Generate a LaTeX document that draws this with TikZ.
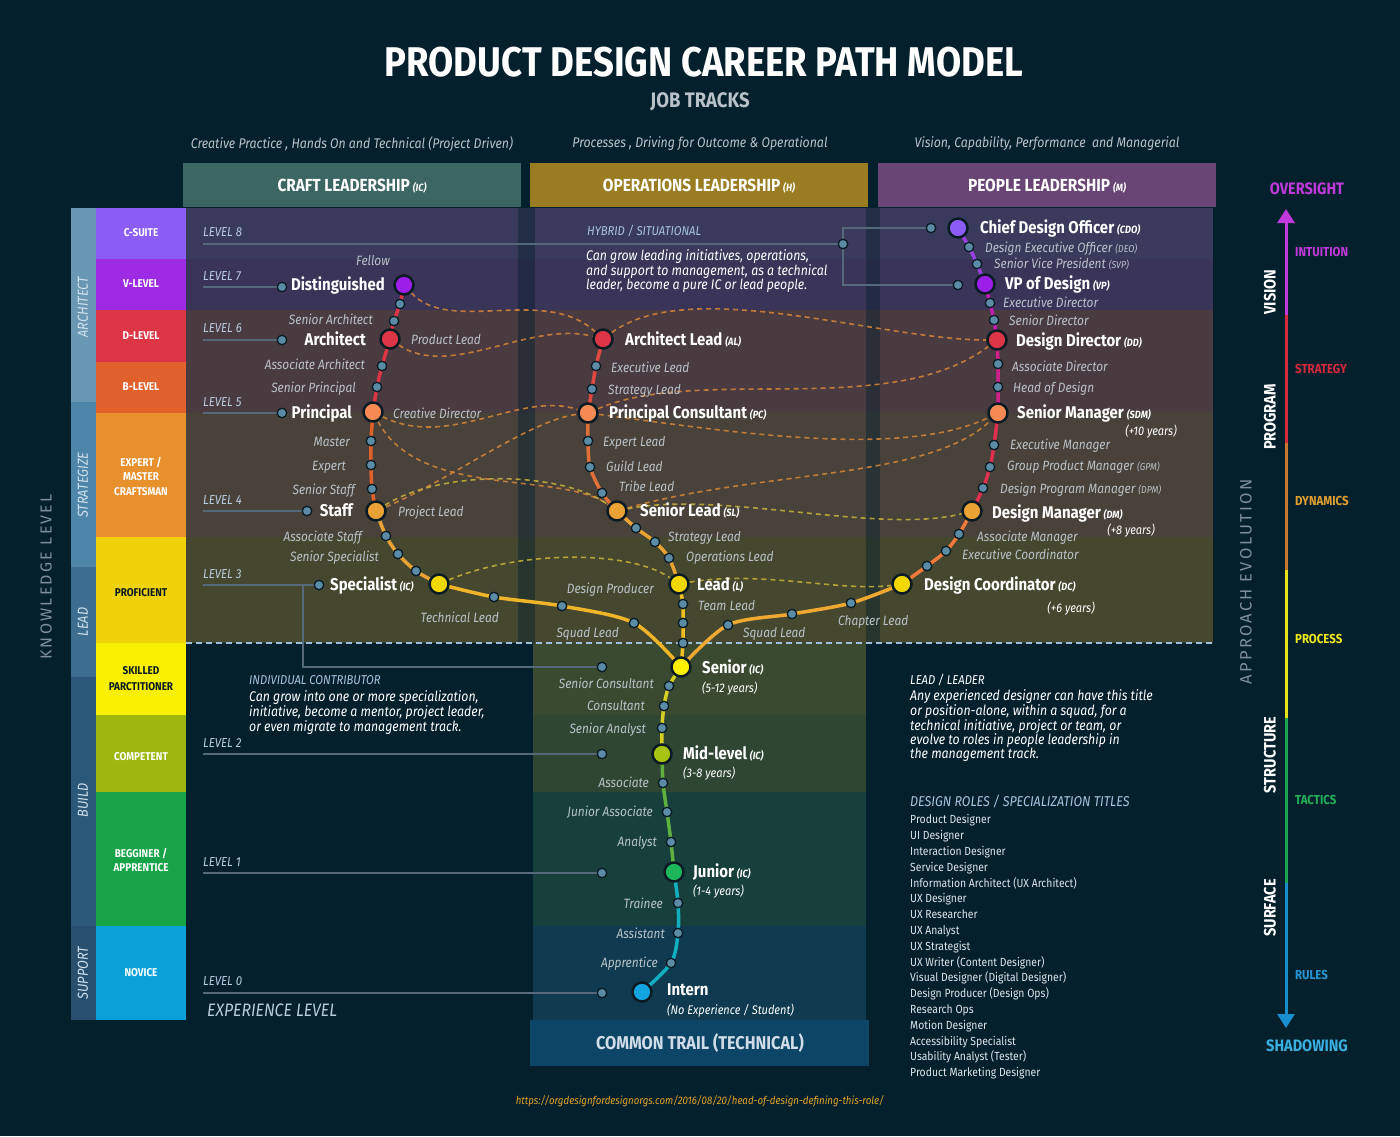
\documentclass[tikz,border=0pt]{standalone}
\usepackage{fontspec}
\setmainfont{Fira Sans}[FakeStretch=0.88]
\newfontfamily\spacedf{Fira Sans}[LetterSpace=14]
\usetikzlibrary{arrows.meta}
\pgfdeclarelayer{bg}
\pgfdeclarelayer{lines}
\pgfsetlayers{bg,lines,main}
\newcommand\myfs[2]{\fontsize{#1}{#2}\selectfont}
\newcommand\tabbr[1]{{\myfs{10.5}{12}\itshape #1}}
\definecolor{bgc}{HTML}{05202D}
\definecolor{hcraft}{HTML}{3B6664}
\definecolor{hops}{HTML}{9A7D22}
\definecolor{hpeople}{HTML}{684575}
\definecolor{oArch}{HTML}{6A97B3}
\definecolor{oStrat}{HTML}{4E86AA}
\definecolor{oLead}{HTML}{3D6E90}
\definecolor{oBuild}{HTML}{2B5878}
\definecolor{oSupp}{HTML}{28506E}
\definecolor{bCsuite}{HTML}{8B5CF6}
\definecolor{bVlevel}{HTML}{9D2BE3}
\definecolor{bDlevel}{HTML}{DC3545}
\definecolor{bBlevel}{HTML}{E0612B}
\definecolor{bExpert}{HTML}{E8902C}
\definecolor{bProf}{HTML}{F0D20A}
\definecolor{bSkilled}{HTML}{F8F000}
\definecolor{bComp}{HTML}{9DB70F}
\definecolor{bBeg}{HTML}{17A348}
\definecolor{bNov}{HTML}{0AA0D8}
\definecolor{r1c}{HTML}{3A3A5C}
\definecolor{r2c}{HTML}{3B3459}
\definecolor{r3c}{HTML}{4A3B40}
\definecolor{r4c}{HTML}{48423A}
\definecolor{r5c}{HTML}{45482F}
\definecolor{m1c}{HTML}{3A4A30}
\definecolor{m2c}{HTML}{2F4633}
\definecolor{m3c}{HTML}{173F3B}
\definecolor{m4c}{HTML}{0F3A4F}
\definecolor{trailc}{HTML}{0D4566}
\definecolor{nodeedge}{HTML}{0A1B24}
\definecolor{dotc}{HTML}{5B8BA5}
\definecolor{labc}{HTML}{B9C2C9}
\definecolor{lvlc}{HTML}{B8CCE0}
\definecolor{lvlinec}{HTML}{56697A}
\definecolor{sidec}{HTML}{D0E0EC}
\definecolor{knowc}{HTML}{7D8E9C}
\definecolor{cPurple}{HTML}{9B1FE8}
\definecolor{cViolet}{HTML}{8B5CF6}
\definecolor{cRed}{HTML}{DC3545}
\definecolor{cSalmon}{HTML}{F58A55}
\definecolor{cOrange}{HTML}{EBA235}
\definecolor{cYellow}{HTML}{F2D800}
\definecolor{cBright}{HTML}{FAF000}
\definecolor{cMid}{HTML}{A8C412}
\definecolor{cJun}{HTML}{1DB55A}
\definecolor{cIntern}{HTML}{12A4E0}
\definecolor{dOr}{HTML}{D8873A}
\definecolor{dYe}{HTML}{C9B23C}
\definecolor{aPur}{HTML}{C03ADB}
\definecolor{aRed}{HTML}{D42A3C}
\definecolor{aOr}{HTML}{C8782E}
\definecolor{aYe}{HTML}{E8E21C}
\definecolor{aGr}{HTML}{1FA552}
\definecolor{aBl}{HTML}{1A8FD0}
\definecolor{urlc}{HTML}{E0A526}
\definecolor{subc}{HTML}{B8C2C8}
\definecolor{notec}{HTML}{A8C4E0}
\definecolor{dividerc}{HTML}{9CC0D8}
\tikzset{
  big/.style={circle, minimum size=19pt, inner sep=0pt, draw=nodeedge, line width=2.5pt},
  dot/.style={circle, minimum size=9.5pt, inner sep=0pt, fill=dotc, draw=nodeedge, line width=1.3pt},
  bl/.style={font=\myfs{17}{19}\bfseries, text=white, inner sep=0pt, yshift=-3pt},
  il/.style={font=\myfs{13.5}{15}\itshape, text=labc, inner sep=0pt, yshift=-3pt},
  yl/.style={font=\myfs{12.5}{14}\itshape, text=white, inner sep=0pt, yshift=-3pt},
  lvl/.style={font=\myfs{13}{14}\itshape, text=lvlc, inner sep=0pt, anchor=mid west, yshift=-2pt},
  lvline/.style={draw=lvlinec, line width=2pt},
  trk/.style={line width=3.5pt},
  dsh/.style={dash pattern=on 5pt off 4pt, line width=1.6pt, opacity=0.85},
  bandtxt/.style={font=\myfs{11.3}{14.5}\bfseries, align=center, text=white, inner sep=0pt},
  side/.style={font=\myfs{14.5}{16}\itshape, text=sidec, rotate=90, inner sep=0pt},
  axlab/.style={font=\myfs{13}{14}\bfseries, inner sep=0pt, anchor=mid west, yshift=-2pt},
  axside/.style={font=\myfs{16.5}{18}\bfseries, text=white, rotate=90, inner sep=0pt},
  hdr/.style={font=\myfs{17.5}{19}\bfseries, text=white, inner sep=0pt},
  para/.style={font=\myfs{14}{13.6}\itshape, text=white, align=left, inner sep=0pt, anchor=north west},
  notehead/.style={font=\myfs{12.8}{14}\itshape, text=notec, inner sep=0pt, anchor=mid west, yshift=-2pt}
}
\begin{document}
\begin{tikzpicture}[x=1pt,y=-1pt]
\useasboundingbox (0,0) rectangle (1400,1136);
\begin{pgfonlayer}{bg}
\fill[bgc] (0,0) rectangle (1400,1136);
% header boxes
\fill[hcraft] (183,163) rectangle (521,207);
\fill[hops] (530,163) rectangle (868,207);
\fill[hpeople] (878,163) rectangle (1216,207);
% outer left bars
\fill[oArch] (71,208) rectangle (96,402);
\fill[oStrat] (71,402) rectangle (96,567);
\fill[oLead] (71,567) rectangle (96,677);
\fill[oBuild] (71,677) rectangle (96,926);
\fill[oSupp] (71,926) rectangle (96,1020);
% inner colour bands
\fill[bCsuite] (96,208) rectangle (186,259);
\fill[bVlevel] (96,259) rectangle (186,310);
\fill[bDlevel] (96,310) rectangle (186,362);
\fill[bBlevel] (96,362) rectangle (186,413);
\fill[bExpert] (96,413) rectangle (186,537);
\fill[bProf] (96,537) rectangle (186,643);
\fill[bSkilled] (96,643) rectangle (186,715);
\fill[bComp] (96,715) rectangle (186,792);
\fill[bBeg] (96,792) rectangle (186,926);
\fill[bNov] (96,926) rectangle (186,1020);
% main rows
\fill[r1c] (186,208) rectangle (1213,259);
\fill[r2c] (186,259) rectangle (1213,310);
\fill[r3c] (186,310) rectangle (1213,413);
\fill[r4c] (186,413) rectangle (1213,537);
\fill[r5c] (186,537) rectangle (1213,643);
\fill[bgc, opacity=0.45] (518,208) rectangle (535,643);
\fill[bgc, opacity=0.45] (866,208) rectangle (880,643);
% middle lower column
\fill[m1c] (533,643) rectangle (866,715);
\fill[m2c] (533,715) rectangle (866,792);
\fill[m3c] (533,792) rectangle (866,926);
\fill[m4c] (533,926) rectangle (866,1020);
\fill[trailc] (530,1020) rectangle (869,1066);
\end{pgfonlayer}

% ---------- titles ----------
\node[font=\myfs{41.5}{44}\bfseries, text=white] (title) at (704,62) {PRODUCT DESIGN CAREER PATH MODEL};
\node[font=\myfs{21}{23}\bfseries, text=subc] (jobtracks) at (700,102) {JOB TRACKS};
\node[font=\myfs{14}{16}\itshape, text=subc] (sub1) at (352,144) {Creative Practice , Hands On and Technical (Project Driven)};
\node[font=\myfs{14}{16}\itshape, text=subc] (sub2) at (700,144) {Processes , Driving for Outcome \& Operational};
\node[font=\myfs{14}{16}\itshape, text=subc] (sub3) at (1047,144) {Vision, Capability, Performance \ and Managerial};
\node[hdr] (hc) at (352,186) {CRAFT LEADERSHIP\,\tabbr{(IC)}};
\node[hdr] (ho) at (699,186) {OPERATIONS LEADERSHIP\,\tabbr{(H)}};
\node[hdr] (hp) at (1047,186) {PEOPLE LEADERSHIP\,\tabbr{(M)}};

% ---------- left column labels ----------
\node[side] (sArch) at (83,307) {ARCHITECT};
\node[side] (sStrat) at (83,485) {STRATEGIZE};
\node[side] (sLead) at (83,622) {LEAD};
\node[side] (sBuild) at (83,800) {BUILD};
\node[side] (sSupp) at (83,973) {SUPPORT};
\node[bandtxt] (tCs) at (141,233) {C-SUITE};
\node[bandtxt] (tVl) at (141,284) {V-LEVEL};
\node[bandtxt] (tDl) at (141,336) {D-LEVEL};
\node[bandtxt] (tBl) at (141,387) {B-LEVEL};
\node[bandtxt] (tEx) at (141,476) {EXPERT /\\MASTER\\CRAFTSMAN};
\node[bandtxt, text=nodeedge] (tPr) at (141,593) {PROFICIENT};
\node[bandtxt, text=nodeedge, font=\myfs{11.3}{16}\bfseries] (tSk) at (141,679) {SKILLED\\PARCTITIONER};
\node[bandtxt] (tCo) at (141,757) {COMPETENT};
\node[bandtxt] (tBe) at (141,860) {BEGGINER /\\APPRENTICE};
\node[bandtxt] (tNo) at (141,973) {NOVICE};
\node[rotate=90, font=\spacedf\myfs{16}{18}, text=knowc] (know) at (46,577) {KNOWLEDGE LEVEL};
\node[rotate=90, font=\spacedf\myfs{16.5}{18}, text=knowc] (appr) at (1246,582) {APPROACH EVOLUTION};

% ---------- level labels ----------
\node[lvl] (L8) at (203,232) {LEVEL 8};
\node[lvl] (L7) at (203,276) {LEVEL 7};
\node[lvl] (L6) at (203,328) {LEVEL 6};
\node[lvl] (L5) at (203,402) {LEVEL 5};
\node[lvl] (L4) at (203,500) {LEVEL 4};
\node[lvl] (L3) at (203,574) {LEVEL 3};
\node[lvl] (L2) at (203,743) {LEVEL 2};
\node[lvl] (L1) at (203,862) {LEVEL 1};
\node[lvl] (L0) at (203,981) {LEVEL 0};
\node[font=\myfs{18}{20}\itshape, text=lvlc, anchor=mid west, inner sep=0pt, yshift=-2pt] (explev) at (207,1012) {EXPERIENCE LEVEL};

\coordinate (s8) at (203,244);
\coordinate (s7) at (203,287);
\coordinate (s6) at (203,340);
\coordinate (s5) at (203,413);
\coordinate (s4) at (203,511);
\coordinate (s3) at (203,585);
\coordinate (s2) at (203,754);
\coordinate (s1) at (203,873);
\coordinate (s0) at (203,993);
\coordinate (b3) at (303,585);
\coordinate (b3d) at (303,667);
\coordinate (k8u) at (843,228);
\coordinate (k8d) at (843,285);

\node[dot] (d8) at (843,244) {};
\node[dot] (d8a) at (931,228) {};
\node[dot] (d8b) at (958,285) {};
\node[dot] (d7) at (282,287) {};
\node[dot] (d6) at (282,340) {};
\node[dot] (d5) at (282,413) {};
\node[dot] (d4) at (307,511) {};
\node[dot] (d3) at (319,585) {};
\node[dot] (d3b) at (602,667) {};
\node[dot] (d2) at (602,754) {};
\node[dot] (d1) at (602,873) {};
\node[dot] (d0) at (602,993) {};

% ---------- track nodes ----------
\node[big, fill=cPurple] (dist) at (404,285) {};
\node[dot] (l1) at (400,304) {};
\node[dot] (l2) at (394,321) {};
\node[big, fill=cRed] (arch) at (390,339) {};
\node[dot] (l3) at (382,366) {};
\node[dot] (l4) at (377,387) {};
\node[big, fill=cSalmon] (princ) at (373,412) {};
\node[dot] (l5) at (371,441) {};
\node[dot] (l6) at (371,465) {};
\node[dot] (l7) at (372,489) {};
\node[big, fill=cOrange] (staff) at (376,511) {};
\node[dot] (l8) at (386,536) {};
\node[dot] (l9) at (398,554) {};
\node[dot] (l10) at (416,571) {};
\node[big, fill=cYellow] (spec) at (439,584) {};
\node[dot] (l11) at (494,597) {};
\node[dot] (l12) at (562,606) {};
\node[dot] (l13) at (634,623) {};

\node[big, fill=cRed] (al) at (603,339) {};
\node[dot] (m1) at (596,366) {};
\node[dot] (m2) at (592,389) {};
\node[big, fill=cSalmon] (pc) at (588,413) {};
\node[dot] (m3) at (588,441) {};
\node[dot] (m4) at (590,467) {};
\node[dot] (m5) at (602,493) {};
\node[big, fill=cOrange] (sl) at (617,511) {};
\node[dot] (m6) at (636,528) {};
\node[dot] (m7) at (655,542) {};
\node[dot] (m8) at (669,558) {};
\node[big, fill=cYellow] (lead) at (679,584) {};
\node[dot] (m9) at (683,604) {};
\node[dot] (m10) at (683,623) {};
\node[dot] (m11) at (683,643) {};

\node[big, fill=cViolet] (cdo) at (958,228) {};
\node[dot] (r1) at (969,247) {};
\node[dot] (r2) at (977,264) {};
\node[big, fill=cPurple] (vp) at (985,284) {};
\node[dot] (r3) at (990,303) {};
\node[dot] (r4) at (994,320) {};
\node[big, fill=cRed] (dd) at (997,340) {};
\node[dot] (r5) at (998,364) {};
\node[dot] (r6) at (998,387) {};
\node[big, fill=cSalmon] (sdm) at (998,413) {};
\node[dot] (r7) at (994,445) {};
\node[dot] (r8) at (990,467) {};
\node[dot] (r9) at (983,488) {};
\node[big, fill=cOrange] (dm) at (972,511) {};
\node[dot] (r10) at (959,534) {};
\node[dot] (r11) at (946,551) {};
\node[dot] (r12) at (927,566) {};
\node[big, fill=cYellow] (dc) at (902,584) {};
\node[dot] (r13) at (851,603) {};
\node[dot] (r14) at (792,614) {};
\node[dot] (r15) at (728,625) {};

\node[big, fill=cBright] (senior) at (681,667) {};
\node[dot] (b1) at (669,686) {};
\node[dot] (b2) at (664,706) {};
\node[dot] (b3n) at (662,728) {};
\node[big, fill=cMid] (mid) at (662,754) {};
\node[dot] (b4) at (663,783) {};
\node[dot] (b5) at (667,812) {};
\node[dot] (b6) at (671,842) {};
\node[big, fill=cJun] (jun) at (674,872) {};
\node[dot] (b7) at (678,903) {};
\node[dot] (b8) at (678,933) {};
\node[dot] (b9) at (671,963) {};
\node[big, fill=cIntern] (intern) at (642,992) {};

% ---------- lines layer ----------
\begin{pgfonlayer}{lines}
\draw[lvline] (s8) -- (d8.center) (d8.center) -- (k8u) -- (d8a.center) (d8.center) -- (k8d) -- (d8b.center);
\draw[lvline] (s7) -- (d7.center);
\draw[lvline] (s6) -- (d6.center);
\draw[lvline] (s5) -- (d5.center);
\draw[lvline] (s4) -- (d4.center);
\draw[lvline] (s3) -- (d3.center);
\draw[lvline] (b3) -- (b3d) -- (d3b.center);
\draw[lvline] (s2) -- (d2.center);
\draw[lvline] (s1) -- (d1.center);
\draw[lvline] (s0) -- (d0.center);
\draw[dash pattern=on 6pt off 4pt, line width=2pt, draw=dividerc] (186,643) -- (1213,643);

% dashed connections
\draw[dsh, draw=dOr] (dist) .. controls (450,335) and (545,285) .. (al);
\draw[dsh, draw=dOr] (arch) .. controls (450,380) and (530,320) .. (al);
\draw[dsh, draw=dOr] (al) .. controls (690,275) and (880,340) .. (dd);
\draw[dsh, draw=dOr] (pc) .. controls (700,365) and (890,420) .. (dd);
\draw[dsh, draw=dOr] (princ) .. controls (450,450) and (520,390) .. (pc);
\draw[dsh, draw=dOr] (princ) .. controls (420,500) and (560,470) .. (sl);
\draw[dsh, draw=dOr] (staff) .. controls (450,480) and (530,420) .. (pc);
\draw[dsh, draw=dOr] (pc) .. controls (720,430) and (900,460) .. (sdm);
\draw[dsh, draw=dOr] (sl) .. controls (760,470) and (930,480) .. (sdm);
\draw[dsh, draw=dYe] (sl) .. controls (720,490) and (880,535) .. (dm);
\draw[dsh, draw=dYe] (staff) .. controls (440,470) and (560,470) .. (sl);
\draw[dsh, draw=dYe] (spec) .. controls (520,550) and (630,550) .. (lead);
\draw[dsh, draw=dYe] (lead) .. controls (760,570) and (840,592) .. (dc);

% tracks
\draw[trk, draw=bDlevel] plot[smooth] coordinates {(dist.center) (l1.center) (l2.center) (arch.center)};
\draw[trk, draw=cRed] plot[smooth] coordinates {(arch.center) (l3.center) (l4.center) (princ.center)};
\draw[trk, draw=bBlevel] plot[smooth] coordinates {(princ.center) (l5.center) (l6.center) (l7.center) (staff.center)};
\draw[trk, draw=cOrange] plot[smooth] coordinates {(staff.center) (l8.center) (l9.center) (l10.center) (spec.center)};
\draw[trk, draw={rgb,255:red,240;green,180;blue,40}] plot[smooth] coordinates {(spec.center) (l11.center) (l12.center) (l13.center) (senior.center)};
\draw[trk, draw={rgb,255:red,224;green,74;blue,64}] plot[smooth] coordinates {(al.center) (m1.center) (m2.center) (pc.center)};
\draw[trk, draw={rgb,255:red,224;green,112;blue,56}] plot[smooth] coordinates {(pc.center) (m3.center) (m4.center) (m5.center) (sl.center)};
\draw[trk, draw=cOrange] plot[smooth] coordinates {(sl.center) (m6.center) (m7.center) (m8.center) (lead.center)};
\draw[trk, draw={rgb,255:red,240;green,192;blue,32}] plot[smooth] coordinates {(lead.center) (m9.center) (m10.center) (m11.center) (senior.center)};
\draw[trk, draw={rgb,255:red,154;green,64;blue,224}] plot[smooth] coordinates {(cdo.center) (r1.center) (r2.center) (vp.center)};
\draw[trk, draw={rgb,255:red,192;green,32;blue,176}] plot[smooth] coordinates {(vp.center) (r3.center) (r4.center) (dd.center)};
\draw[trk, draw={rgb,255:red,208;green,32;blue,138}] plot[smooth] coordinates {(dd.center) (r5.center) (r6.center) (sdm.center)};
\draw[trk, draw={rgb,255:red,224;green,48;blue,80}] plot[smooth] coordinates {(sdm.center) (r7.center) (r8.center) (r9.center) (dm.center)};
\draw[trk, draw={rgb,255:red,240;green,122;blue,58}] plot[smooth] coordinates {(dm.center) (r10.center) (r11.center) (r12.center) (dc.center)};
\draw[trk, draw={rgb,255:red,240;green,168;blue,48}] plot[smooth] coordinates {(dc.center) (r13.center) (r14.center) (r15.center) (senior.center)};
\draw[trk, draw={rgb,255:red,216;green,208;blue,32}] plot[smooth] coordinates {(senior.center) (b1.center) (b2.center) (b3n.center) (mid.center)};
\draw[trk, draw={rgb,255:red,96;green,176;blue,64}] plot[smooth] coordinates {(mid.center) (b4.center) (b5.center) (b6.center) (jun.center)};
\draw[trk, draw={rgb,255:red,16;green,176;blue,192}] plot[smooth] coordinates {(jun.center) (b7.center) (b8.center) (b9.center) (intern.center)};

% right axis
\coordinate (ax0) at (1286,209);
\coordinate (ax1) at (1286,315);
\coordinate (ax2) at (1286,443);
\coordinate (ax3) at (1286,570);
\coordinate (ax4) at (1286,718);
\coordinate (ax5) at (1286,883);
\coordinate (ax6) at (1286,1028);
\draw[line width=3pt, draw=aPur, -{Triangle[width=17pt,length=14pt]}] (ax1) -- (ax0);
\draw[line width=3pt, draw=aRed] (ax1) -- (ax2);
\draw[line width=3pt, draw=aOr] (ax2) -- (ax3);
\draw[line width=3pt, draw=aYe] (ax3) -- (ax4);
\draw[line width=3pt, draw=aGr] (ax4) -- (ax5);
\draw[line width=3pt, draw=aBl, -{Triangle[width=17pt,length=14pt]}] (ax5) -- (ax6);
\end{pgfonlayer}

% ---------- axis labels ----------
\node[font=\myfs{16.5}{18}\bfseries, text=aPur] (over) at (1307,189) {OVERSIGHT};
\node[axlab, text=aPur] (intu) at (1295,252) {INTUITION};
\node[axlab, text=aRed] (strat) at (1295,369) {STRATEGY};
\node[axlab, text={rgb,255:red,224;green,160;blue,48}] (dyn) at (1295,501) {DYNAMICS};
\node[axlab, text={rgb,255:red,240;green,232;blue,30}] (proc) at (1295,639) {PROCESS};
\node[axlab, text={rgb,255:red,32;green,176;blue,88}] (tac) at (1295,800) {TACTICS};
\node[axlab, text={rgb,255:red,37;green,150;blue,211}] (rules) at (1295,975) {RULES};
\node[font=\myfs{16.5}{18}\bfseries, text={rgb,255:red,58;green,176;blue,224}] (shad) at (1307,1046) {SHADOWING};
\node[axside] (vis) at (1270,292) {VISION};
\node[axside] (prog) at (1270,417) {PROGRAM};
\node[axside] (struc) at (1270,755) {STRUCTURE};
\node[axside] (surf) at (1270,908) {SURFACE};

% ---------- track labels: craft ----------
\node[il, anchor=mid east] at (390,260) {Fellow};
\node[bl, anchor=mid east] at (385,285) {Distinguished};
\node[il, anchor=mid east] at (373,319) {Senior Architect};
\node[bl, anchor=mid east] at (366,340) {Architect};
\node[il, anchor=mid west] at (411,339) {Product Lead};
\node[il, anchor=mid east] at (365,364) {Associate Architect};
\node[il, anchor=mid east] at (356,387) {Senior Principal};
\node[bl, anchor=mid east] at (352,413) {Principal};
\node[il, anchor=mid west] at (393,413) {Creative Director};
\node[il, anchor=mid east] at (350,441) {Master};
\node[il, anchor=mid east] at (346,465) {Expert};
\node[il, anchor=mid east] at (355,489) {Senior Staff};
\node[bl, anchor=mid east] at (353,511) {Staff};
\node[il, anchor=mid west] at (398,511) {Project Lead};
\node[il, anchor=mid east] at (362,536) {Associate Staff};
\node[il, anchor=mid east] at (379,556) {Senior Specialist};
\node[bl, anchor=mid west] at (330,585) {Specialist\,\tabbr{(IC)}};
\node[il, anchor=mid east] at (499,617) {Technical Lead};

% ---------- ops ----------
\node[bl, anchor=mid west] at (625,340) {Architect Lead\,\tabbr{(AL)}};
\node[il, anchor=mid west] at (611,367) {Executive Lead};
\node[il, anchor=mid west] at (608,389) {Strategy Lead};
\node[bl, anchor=mid west] at (609,413) {Principal Consultant\,\tabbr{(PC)}};
\node[il, anchor=mid west] at (603,441) {Expert Lead};
\node[il, anchor=mid west] at (606,466) {Guild Lead};
\node[il, anchor=mid west] at (619,486) {Tribe Lead};
\node[bl, anchor=mid west] at (640,511) {Senior Lead\,\tabbr{(SL)}};
\node[il, anchor=mid west] at (668,536) {Strategy Lead};
\node[il, anchor=mid west] at (686,556) {Operations Lead};
\node[bl, anchor=mid west] at (697,585) {Lead\,\tabbr{(L)}};
\node[il, anchor=mid east] at (654,588) {Design Producer};
\node[il, anchor=mid west] at (698,605) {Team Lead};
\node[il, anchor=mid east] at (619,632) {Squad Lead};
\node[il, anchor=mid west] at (743,632) {Squad Lead};
\node[il, anchor=mid west] at (838,620) {Chapter Lead};

% ---------- people ----------
\node[bl, anchor=mid west] at (980,228) {Chief Design Officer\,\tabbr{(CDO)}};
\node[il, anchor=mid west] at (985,247) {Design Executive Officer {\myfs{10}{11}(DEO)}};
\node[il, anchor=mid west] at (994,263) {Senior Vice President {\myfs{10}{11}(SVP)}};
\node[bl, anchor=mid west] at (1005,284) {VP of Design\,\tabbr{(VP)}};
\node[il, anchor=mid west] at (1003,302) {Executive Director};
\node[il, anchor=mid west] at (1009,320) {Senior Director};
\node[bl, anchor=mid west] at (1016,341) {Design Director\,\tabbr{(DD)}};
\node[il, anchor=mid west] at (1012,366) {Associate Director};
\node[il, anchor=mid west] at (1013,387) {Head of Design};
\node[bl, anchor=mid west] at (1017,413) {Senior Manager\,\tabbr{(SDM)}};
\node[yl, anchor=mid east] at (1177,430) {(+10 years)};
\node[il, anchor=mid west] at (1010,444) {Executive Manager};
\node[il, anchor=mid west] at (1007,465) {Group Product Manager {\myfs{10}{11}(GPM)}};
\node[il, anchor=mid west] at (1000,488) {Design Program Manager {\myfs{10}{11}(DPM)}};
\node[bl, anchor=mid west] at (992,513) {Design Manager\,\tabbr{(DM)}};
\node[yl, anchor=mid east] at (1155,529) {(+8 years)};
\node[il, anchor=mid west] at (977,536) {Associate Manager};
\node[il, anchor=mid west] at (962,554) {Executive Coordinator};
\node[bl, anchor=mid west] at (924,585) {Design Coordinator\,\tabbr{(DC)}};
\node[yl, anchor=mid east] at (1095,607) {(+6 years)};

% ---------- common trail ----------
\node[bl, anchor=mid west] at (702,668) {Senior\,\tabbr{(IC)}};
\node[yl, anchor=mid west] at (702,687) {(5-12 years)};
\node[il, anchor=mid east] at (654,683) {Senior Consultant};
\node[il, anchor=mid east] at (645,705) {Consultant};
\node[il, anchor=mid east] at (646,728) {Senior Analyst};
\node[bl, anchor=mid west] at (683,754) {Mid-level\,\tabbr{(IC)}};
\node[yl, anchor=mid west] at (683,772) {(3-8 years)};
\node[il, anchor=mid east] at (649,782) {Associate};
\node[il, anchor=mid east] at (653,811) {Junior Associate};
\node[il, anchor=mid east] at (657,841) {Analyst};
\node[bl, anchor=mid west] at (693,872) {Junior\,\tabbr{(IC)}};
\node[yl, anchor=mid west] at (693,890) {(1-4 years)};
\node[il, anchor=mid east] at (663,903) {Trainee};
\node[il, anchor=mid east] at (665,933) {Assistant};
\node[il, anchor=mid east] at (658,962) {Apprentice};
\node[bl, anchor=mid west] at (667,990) {Intern};
\node[yl, anchor=mid west] at (667,1009) {(No Experience / Student)};
\node[font=\myfs{18.5}{20}\bfseries, text={rgb,255:red,208;green,220;blue,232}] (trail) at (700,1043) {COMMON TRAIL (TECHNICAL)};

% ---------- notes ----------
\node[notehead] (hyb) at (587,231) {HYBRID / SITUATIONAL};
\node[para] (hybp) at (586,249.5) {Can grow leading initiatives, operations,\\and support to management, as a technical\\leader, become a pure IC or lead people.};
\node[notehead] (ich) at (249,680) {INDIVIDUAL CONTRIBUTOR};
\node[para] (icp) at (249,690) {Can grow into one or more specialization,\\initiative, become a mentor, project leader,\\or even migrate to management track.};
\node[notehead, text=white] (ldh) at (910,680) {LEAD / LEADER};
\node[para] (ldp) at (910,689) {Any experienced designer can have this title\\or position-alone, within a squad, for a\\technical initiative, project or team, or\\evolve to roles in people leadership in\\the management track.};
\node[notehead, font=\myfs{14.2}{15}\itshape] (roles) at (910,802) {DESIGN ROLES / SPECIALIZATION TITLES};
\node[font=\myfs{11.8}{15.8}, text={rgb,255:red,220;green,228;blue,234}, align=left, anchor=north west, inner sep=0pt] (roleslist) at (910,814.5) {Product Designer\\UI Designer\\Interaction Designer\\Service Designer\\Information Architect (UX Architect)\\UX Designer\\UX Researcher\\UX Analyst\\UX Strategist\\UX Writer (Content Designer)\\Visual Designer (Digital Designer)\\Design Producer (Design Ops)\\Research Ops\\Motion Designer\\Accessibility Specialist\\Usability Analyst (Tester)\\Product Marketing Designer};
\node[font=\myfs{11}{12}\itshape, text=urlc] (url) at (700,1101) {https://orgdesignfordesignorgs.com/2016/08/20/head-of-design-defining-this-role/};
\end{tikzpicture}
\end{document}
